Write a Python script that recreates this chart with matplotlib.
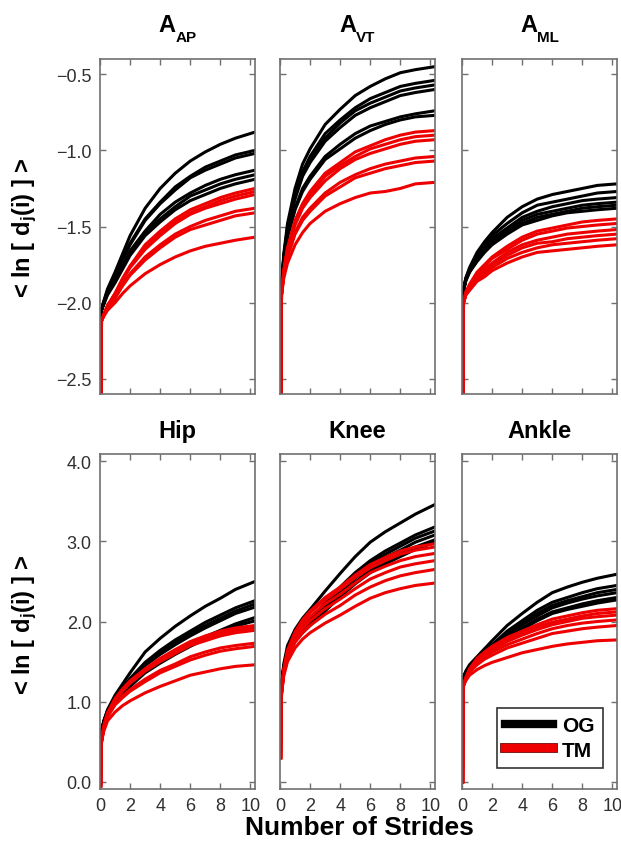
import matplotlib
matplotlib.use('Agg')
import matplotlib.pyplot as plt
from matplotlib.lines import Line2D
from matplotlib.ticker import FuncFormatter
import matplotlib.patheffects as pe

plt.rcParams['font.family'] = ['Liberation Sans', 'DejaVu Sans']
plt.rcParams['mathtext.fontset'] = 'custom'
plt.rcParams['mathtext.rm'] = 'Liberation Sans'
plt.rcParams['mathtext.bf'] = 'Liberation Sans:bold'
plt.rcParams['mathtext.it'] = 'Liberation Sans:italic'

# ---------------- data ----------------
strides = [0.05, 0.1, 0.25, 0.5, 1, 1.5, 2, 3, 4, 5, 6, 7, 8, 9, 10.3]

aap_og = [
    [-2.20, -2.05, -1.99, -1.91, -1.80, -1.68, -1.56, -1.38, -1.25, -1.15, -1.07, -1.01, -0.96, -0.92, -0.88],
    [-2.20, -2.05, -2.00, -1.92, -1.83, -1.71, -1.61, -1.45, -1.34, -1.24, -1.17, -1.11, -1.07, -1.03, -1.00],
    [-2.20, -2.05, -2.00, -1.93, -1.83, -1.72, -1.62, -1.46, -1.35, -1.26, -1.18, -1.13, -1.09, -1.05, -1.02],
    [-2.20, -2.05, -2.00, -1.94, -1.86, -1.76, -1.66, -1.53, -1.42, -1.34, -1.28, -1.23, -1.19, -1.16, -1.13],
    [-2.20, -2.05, -2.01, -1.94, -1.86, -1.77, -1.68, -1.54, -1.45, -1.37, -1.30, -1.26, -1.22, -1.19, -1.16],
    [-2.20, -2.05, -2.01, -1.95, -1.87, -1.78, -1.69, -1.56, -1.47, -1.39, -1.33, -1.29, -1.25, -1.22, -1.19],
]
aap_tm = [
    [-2.90, -2.12, -2.08, -2.02, -1.94, -1.84, -1.76, -1.62, -1.53, -1.45, -1.39, -1.35, -1.31, -1.28, -1.25],
    [-2.90, -2.12, -2.08, -2.02, -1.94, -1.85, -1.76, -1.64, -1.54, -1.47, -1.41, -1.37, -1.33, -1.30, -1.27],
    [-2.90, -2.12, -2.08, -2.02, -1.95, -1.85, -1.77, -1.65, -1.56, -1.48, -1.42, -1.38, -1.35, -1.32, -1.29],
    [-2.90, -2.12, -2.08, -2.03, -1.97, -1.88, -1.81, -1.70, -1.62, -1.55, -1.50, -1.46, -1.43, -1.40, -1.38],
    [-2.90, -2.12, -2.08, -2.04, -1.97, -1.89, -1.82, -1.72, -1.64, -1.57, -1.52, -1.49, -1.46, -1.43, -1.41],
    [-2.90, -2.12, -2.09, -2.05, -2.00, -1.94, -1.89, -1.81, -1.75, -1.70, -1.66, -1.63, -1.61, -1.59, -1.57],
]

avt_og = [
    [-2.00, -1.90, -1.68, -1.48, -1.25, -1.09, -0.99, -0.83, -0.73, -0.64, -0.58, -0.53, -0.49, -0.47, -0.45],
    [-2.00, -1.90, -1.70, -1.51, -1.29, -1.14, -1.04, -0.89, -0.80, -0.72, -0.66, -0.62, -0.58, -0.56, -0.54],
    [-2.00, -1.90, -1.70, -1.51, -1.30, -1.16, -1.06, -0.92, -0.82, -0.74, -0.69, -0.65, -0.61, -0.59, -0.57],
    [-2.00, -1.90, -1.71, -1.52, -1.32, -1.17, -1.08, -0.94, -0.85, -0.77, -0.72, -0.68, -0.64, -0.62, -0.60],
    [-2.00, -1.90, -1.73, -1.56, -1.38, -1.25, -1.17, -1.04, -0.96, -0.89, -0.84, -0.81, -0.78, -0.76, -0.74],
    [-2.00, -1.90, -1.73, -1.57, -1.39, -1.27, -1.19, -1.06, -0.99, -0.92, -0.87, -0.83, -0.80, -0.78, -0.77],
]
avt_tm = [
    [-2.90, -1.95, -1.79, -1.64, -1.46, -1.35, -1.27, -1.15, -1.08, -1.01, -0.97, -0.93, -0.90, -0.88, -0.87],
    [-2.90, -1.95, -1.79, -1.65, -1.48, -1.36, -1.29, -1.17, -1.10, -1.04, -0.99, -0.96, -0.93, -0.91, -0.90],
    [-2.90, -1.95, -1.80, -1.65, -1.49, -1.38, -1.31, -1.20, -1.12, -1.06, -1.02, -0.99, -0.96, -0.94, -0.93],
    [-2.90, -1.95, -1.81, -1.69, -1.54, -1.44, -1.38, -1.28, -1.21, -1.16, -1.12, -1.09, -1.07, -1.05, -1.04],
    [-2.90, -1.95, -1.82, -1.70, -1.55, -1.46, -1.40, -1.30, -1.24, -1.18, -1.15, -1.12, -1.10, -1.08, -1.07],
    [-2.90, -1.95, -1.84, -1.74, -1.62, -1.54, -1.48, -1.40, -1.35, -1.31, -1.28, -1.27, -1.25, -1.22, -1.21],
]

aml_og = [
    [-2.00, -1.92, -1.84, -1.77, -1.67, -1.60, -1.54, -1.44, -1.37, -1.32, -1.29, -1.27, -1.25, -1.23, -1.22],
    [-2.00, -1.92, -1.84, -1.78, -1.69, -1.62, -1.56, -1.48, -1.41, -1.36, -1.34, -1.32, -1.30, -1.28, -1.27],
    [-2.00, -1.92, -1.85, -1.79, -1.70, -1.64, -1.58, -1.51, -1.44, -1.40, -1.37, -1.35, -1.33, -1.32, -1.31],
    [-2.00, -1.92, -1.85, -1.79, -1.71, -1.65, -1.60, -1.53, -1.46, -1.42, -1.40, -1.38, -1.36, -1.35, -1.34],
    [-2.00, -1.92, -1.85, -1.80, -1.72, -1.66, -1.61, -1.54, -1.48, -1.44, -1.42, -1.40, -1.38, -1.37, -1.36],
    [-2.00, -1.92, -1.86, -1.80, -1.73, -1.67, -1.62, -1.55, -1.49, -1.46, -1.43, -1.41, -1.40, -1.39, -1.38],
]
aml_tm = [
    [-2.90, -2.00, -1.93, -1.88, -1.80, -1.75, -1.70, -1.63, -1.57, -1.53, -1.51, -1.49, -1.47, -1.46, -1.45],
    [-2.90, -2.00, -1.94, -1.89, -1.81, -1.76, -1.71, -1.65, -1.59, -1.55, -1.53, -1.51, -1.50, -1.49, -1.48],
    [-2.90, -2.00, -1.94, -1.89, -1.83, -1.78, -1.74, -1.67, -1.62, -1.59, -1.57, -1.55, -1.54, -1.53, -1.52],
    [-2.90, -2.00, -1.95, -1.90, -1.84, -1.79, -1.75, -1.69, -1.64, -1.61, -1.60, -1.58, -1.57, -1.56, -1.55],
    [-2.90, -2.00, -1.95, -1.91, -1.85, -1.81, -1.77, -1.71, -1.67, -1.64, -1.62, -1.61, -1.60, -1.59, -1.58],
    [-2.90, -2.00, -1.95, -1.92, -1.86, -1.83, -1.79, -1.74, -1.70, -1.67, -1.66, -1.65, -1.64, -1.63, -1.62],
]

hip_og = [
    [0.50, 0.62, 0.76, 0.90, 1.08, 1.22, 1.36, 1.62, 1.79, 1.94, 2.07, 2.19, 2.29, 2.40, 2.50],
    [0.50, 0.62, 0.75, 0.88, 1.05, 1.17, 1.29, 1.49, 1.64, 1.77, 1.88, 1.99, 2.08, 2.17, 2.26],
    [0.50, 0.62, 0.75, 0.88, 1.04, 1.16, 1.27, 1.47, 1.61, 1.74, 1.85, 1.95, 2.04, 2.13, 2.22],
    [0.50, 0.62, 0.75, 0.88, 1.03, 1.15, 1.26, 1.45, 1.59, 1.71, 1.82, 1.92, 2.01, 2.10, 2.18],
    [0.50, 0.62, 0.74, 0.86, 1.01, 1.11, 1.21, 1.38, 1.51, 1.62, 1.72, 1.81, 1.89, 1.97, 2.05],
    [0.50, 0.62, 0.74, 0.86, 1.00, 1.10, 1.19, 1.36, 1.48, 1.59, 1.69, 1.78, 1.86, 1.94, 2.01],
]
hip_tm = [
    [-0.05, 0.50, 0.70, 0.86, 1.04, 1.16, 1.26, 1.41, 1.54, 1.65, 1.75, 1.82, 1.88, 1.92, 1.95],
    [-0.05, 0.50, 0.69, 0.85, 1.03, 1.15, 1.24, 1.40, 1.52, 1.62, 1.72, 1.79, 1.85, 1.89, 1.92],
    [-0.05, 0.50, 0.69, 0.85, 1.02, 1.13, 1.23, 1.38, 1.50, 1.60, 1.70, 1.76, 1.82, 1.86, 1.89],
    [-0.05, 0.50, 0.67, 0.82, 0.97, 1.07, 1.15, 1.28, 1.39, 1.47, 1.56, 1.62, 1.67, 1.70, 1.73],
    [-0.05, 0.50, 0.67, 0.81, 0.96, 1.05, 1.13, 1.25, 1.36, 1.44, 1.52, 1.58, 1.63, 1.66, 1.69],
    [-0.05, 0.50, 0.63, 0.76, 0.87, 0.95, 1.01, 1.11, 1.19, 1.26, 1.33, 1.37, 1.41, 1.44, 1.46],
]

knee_og = [
    [1.00, 1.20, 1.47, 1.70, 1.90, 2.04, 2.15, 2.38, 2.60, 2.81, 2.99, 3.12, 3.23, 3.34, 3.46],
    [1.00, 1.20, 1.44, 1.64, 1.81, 1.93, 2.03, 2.23, 2.43, 2.61, 2.76, 2.88, 2.98, 3.08, 3.18],
    [1.00, 1.20, 1.43, 1.63, 1.80, 1.91, 2.01, 2.20, 2.40, 2.57, 2.73, 2.84, 2.94, 3.04, 3.13],
    [1.00, 1.20, 1.43, 1.61, 1.78, 1.90, 1.99, 2.18, 2.37, 2.54, 2.69, 2.80, 2.89, 2.99, 3.08],
    [1.00, 1.20, 1.42, 1.60, 1.76, 1.87, 1.96, 2.15, 2.33, 2.49, 2.64, 2.75, 2.84, 2.93, 3.02],
    [1.00, 1.20, 1.41, 1.59, 1.75, 1.86, 1.95, 2.13, 2.31, 2.47, 2.61, 2.72, 2.81, 2.90, 2.99],
]
knee_tm = [
    [0.30, 1.10, 1.40, 1.64, 1.87, 2.02, 2.13, 2.30, 2.43, 2.58, 2.71, 2.80, 2.88, 2.93, 2.97],
    [0.30, 1.10, 1.39, 1.63, 1.85, 2.00, 2.11, 2.27, 2.40, 2.55, 2.67, 2.76, 2.84, 2.89, 2.93],
    [0.30, 1.10, 1.38, 1.61, 1.82, 1.96, 2.06, 2.22, 2.34, 2.48, 2.61, 2.69, 2.76, 2.81, 2.85],
    [0.30, 1.10, 1.37, 1.58, 1.78, 1.91, 2.01, 2.16, 2.28, 2.41, 2.53, 2.61, 2.68, 2.72, 2.76],
    [0.30, 1.10, 1.35, 1.55, 1.74, 1.86, 1.95, 2.09, 2.20, 2.33, 2.43, 2.51, 2.57, 2.61, 2.65],
    [0.30, 1.10, 1.32, 1.50, 1.67, 1.78, 1.86, 1.98, 2.08, 2.19, 2.29, 2.36, 2.41, 2.45, 2.48],
]

ankle_og = [
    [1.25, 1.30, 1.38, 1.46, 1.56, 1.66, 1.76, 1.95, 2.10, 2.24, 2.36, 2.43, 2.49, 2.54, 2.59],
    [1.25, 1.30, 1.37, 1.44, 1.53, 1.62, 1.71, 1.88, 2.01, 2.14, 2.24, 2.30, 2.36, 2.41, 2.45],
    [1.25, 1.30, 1.37, 1.43, 1.52, 1.61, 1.70, 1.85, 1.98, 2.10, 2.20, 2.26, 2.31, 2.36, 2.40],
    [1.25, 1.30, 1.36, 1.43, 1.51, 1.60, 1.68, 1.83, 1.96, 2.07, 2.17, 2.23, 2.28, 2.32, 2.36],
    [1.25, 1.30, 1.36, 1.42, 1.50, 1.58, 1.66, 1.80, 1.92, 2.03, 2.12, 2.17, 2.22, 2.26, 2.30],
    [1.25, 1.30, 1.36, 1.42, 1.49, 1.57, 1.65, 1.79, 1.90, 2.01, 2.10, 2.15, 2.19, 2.23, 2.27],
]
ankle_tm = [
    [0.00, 1.20, 1.30, 1.41, 1.54, 1.62, 1.69, 1.80, 1.88, 1.96, 2.03, 2.07, 2.11, 2.14, 2.16],
    [0.00, 1.20, 1.29, 1.40, 1.52, 1.61, 1.67, 1.77, 1.85, 1.93, 1.99, 2.03, 2.07, 2.10, 2.12],
    [0.00, 1.20, 1.29, 1.39, 1.51, 1.59, 1.65, 1.75, 1.83, 1.90, 1.96, 2.00, 2.04, 2.06, 2.08],
    [0.00, 1.20, 1.28, 1.38, 1.49, 1.56, 1.62, 1.71, 1.78, 1.85, 1.91, 1.95, 1.98, 2.00, 2.02],
    [0.00, 1.20, 1.28, 1.37, 1.46, 1.53, 1.58, 1.67, 1.73, 1.79, 1.85, 1.88, 1.91, 1.93, 1.95],
    [0.00, 1.20, 1.26, 1.33, 1.40, 1.45, 1.49, 1.55, 1.61, 1.65, 1.69, 1.72, 1.74, 1.76, 1.77],
]

title_main = ['A', 'A', 'A', 'Hip', 'Knee', 'Ankle']
title_sub = ['AP', 'VT', 'ML', '', '', '']
panel_og = [aap_og, avt_og, aml_og, hip_og, knee_og, ankle_og]
panel_tm = [aap_tm, avt_tm, aml_tm, hip_tm, knee_tm, ankle_tm]
x_ticks = [0, 2, 4, 6, 8, 10]
y_ticks_top = [-2.5, -2.0, -1.5, -1.0, -0.5]
y_ticks_bottom = [0.0, 1.0, 2.0, 3.0, 4.0]
legend_labels = ['OG', 'TM']
y_label = r'< ln [ d$_{\mathbf{j}}$(i) ] >'
x_label = 'Number of Strides'

# ---------------- figure ----------------
W, H = 621, 854
fig = plt.figure(figsize=(W / 100, H / 100), dpi=100)
renderer = fig.canvas.get_renderer()
lefts = [100, 280, 462]
tops = [60, 455]
aw, ah = 155, 335

OG_COLOR = 'black'
TM_COLOR = '#ee0000'
spine_c = '#707070'
fmt = FuncFormatter(lambda v, p: f'{v:.1f}'.replace('-', '\u2212'))

axes = []
for i in range(6):
    r, c = divmod(i, 3)
    ax = fig.add_axes([lefts[c] / W, 1 - (tops[r] + ah) / H, aw / W, ah / H])
    axes.append(ax)
    for curve in panel_og[i]:
        ax.plot(strides, curve, color=OG_COLOR, lw=2.2, solid_joinstyle='round')
    for curve in panel_tm[i]:
        ax.plot(strides, curve, color=TM_COLOR, lw=2.2, solid_joinstyle='round')
    ax.set_xlim(0, 10.3)
    ax.set_xticks(x_ticks)
    if r == 0:
        ax.set_ylim(-2.6, -0.4)
        ax.set_yticks(y_ticks_top)
    else:
        ax.set_ylim(-0.09, 4.09)
        ax.set_yticks(y_ticks_bottom)
    ax.yaxis.set_major_formatter(fmt)
    ax.tick_params(direction='in', top=True, right=True, length=4, width=1,
                   color=spine_c, labelsize=13, labelcolor='#303030', pad=6)
    ax.tick_params(labelbottom=(r == 1), labelleft=(c == 0))
    for s in ax.spines.values():
        s.set_color(spine_c)
        s.set_linewidth(1.2)

    # titles (main text + lowered subscript), centred over the panel
    cx = lefts[c] + aw / 2
    if title_sub[i]:
        tA = fig.text(0, 0, title_main[i], fontsize=17, fontweight='bold', va='baseline')
        tS = fig.text(0, 0, title_sub[i], fontsize=11, fontweight='bold', va='baseline')
        wA = tA.get_window_extent(renderer).width
        wS = tS.get_window_extent(renderer).width
        x0 = cx - (wA + wS) / 2
        tA.set_position((x0 / W, 1 - 32 / H))
        tS.set_position(((x0 + wA) / W, 1 - 42.5 / H))
    else:
        fig.text(cx / W, 1 - 438 / H, title_main[i], fontsize=17, fontweight='bold',
                 ha='center', va='baseline')

fig.text(25 / W, 1 - 228 / H, y_label, rotation=90,
         ha='center', va='center', fontsize=17, fontweight='bold')
fig.text(25 / W, 1 - 625 / H, y_label, rotation=90,
         ha='center', va='center', fontsize=17, fontweight='bold')
fig.text(359 / W, 1 - 828 / H, x_label, ha='center', va='center',
         fontsize=19, fontweight='bold')

handles = [Line2D([0], [0], color=OG_COLOR, lw=6),
           Line2D([0], [0], color=TM_COLOR, lw=6,
                  path_effects=[pe.Stroke(linewidth=7, foreground='#5a0000'), pe.Normal()])]
leg = axes[5].legend(handles, legend_labels, loc='lower right',
                     bbox_to_anchor=((603 - 462) / aw, (790 - 769) / ah), borderaxespad=0,
                     prop={'weight': 'bold', 'size': 15}, fancybox=False,
                     framealpha=1, edgecolor='#333333', handlelength=2.3,
                     handletextpad=0.45, borderpad=0.4, labelspacing=0.25)
leg.get_frame().set_linewidth(1.2)

fig.savefig('out.png', dpi=100)
